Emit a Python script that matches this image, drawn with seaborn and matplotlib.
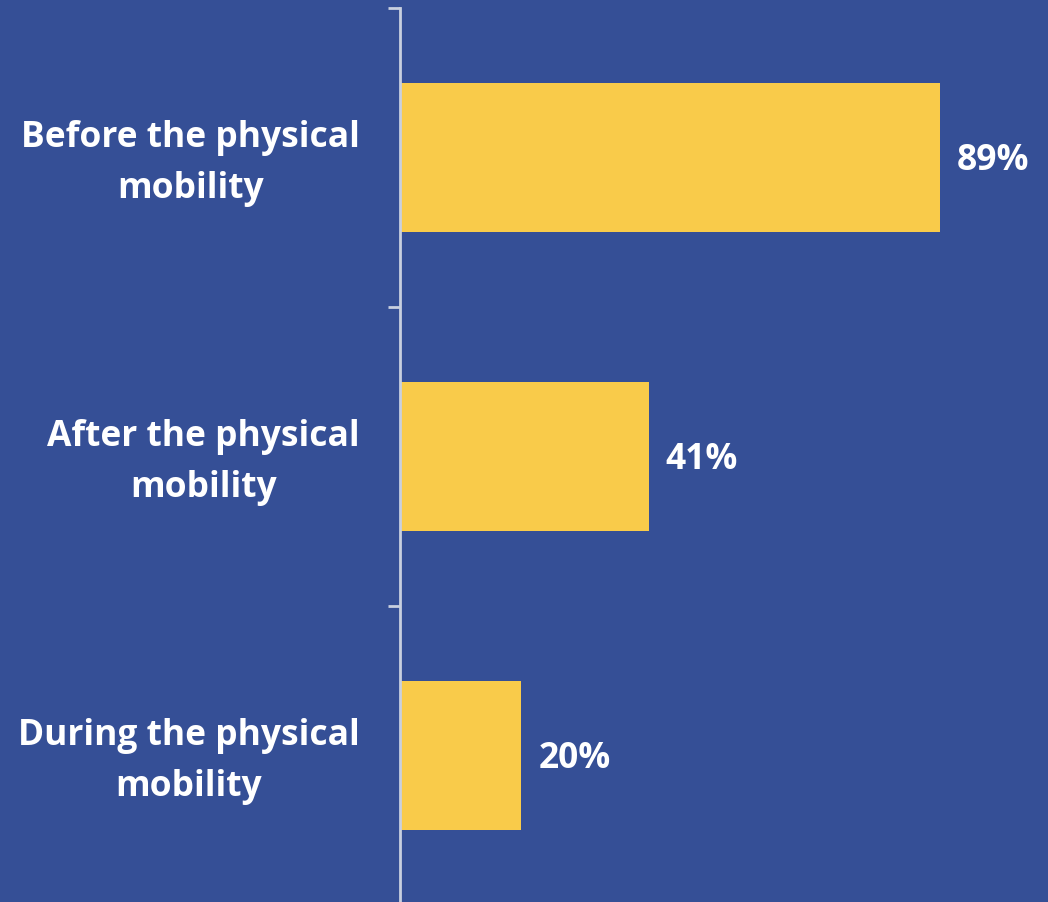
import matplotlib
matplotlib.use("Agg")
import matplotlib.pyplot as plt
import matplotlib.transforms as mtransforms
import seaborn as sns
import pandas as pd

categories = ["Before the physical\nmobility", "After the physical\nmobility", "During the physical\nmobility"]
values = [89, 41, 20]
value_labels = ["89%", "41%", "20%"]

BG = "#354F96"
BAR = "#F9CB4A"
AX = "#C9D0DF"

sns.set_theme(style="white")
plt.rcParams['font.family'] = ['Open Sans', 'DejaVu Sans']

df = pd.DataFrame({"category": categories, "value": values})

fig = plt.figure(figsize=(10.48, 9.03), dpi=100)
fig.patch.set_facecolor(BG)
H = 903.0
W = 1048.0
top = 9
bottom = 9 + 3 * 299
ax = fig.add_axes([400 / W, 1 - bottom / H, (W - 400) / W, (bottom - top) / H])
ax.set_facecolor(BG)

sns.barplot(data=df, y="category", x="value", orient="h", color=BAR, width=0.5,
            saturation=1, linewidth=0, edgecolor="none", ax=ax)
ax.set_xlim(0, (W - 400) / 6.07)
ax.set_ylim(2.5, -0.5)

for i, (v, lab) in enumerate(zip(values, value_labels)):
    ax.text(v + 17 / 6.07, i + 0.01, lab, va="center", ha="left", color="white",
            fontsize=25.5, fontweight="bold")

for s in ["top", "right", "bottom"]:
    ax.spines[s].set_visible(False)
ax.spines["left"].set_color(AX)
ax.spines["left"].set_linewidth(2)

ax.set_xticks([])
ax.set_xlabel("")
ax.set_ylabel("")
ax.set_yticks([0, 1, 2])
ax.set_yticklabels(categories, color="white", fontsize=25.5, fontweight="bold",
                   multialignment="center", linespacing=1.56)
ax.tick_params(axis="y", which="major", length=0, pad=29)
ax.set_yticks([-0.5, 0.5, 1.5, 2.5], minor=True)
ax.tick_params(axis="y", which="minor", length=9, width=2, color=AX, left=True)

shift = mtransforms.ScaledTranslation(0, 7 / 100, fig.dpi_scale_trans)
for lab in ax.get_yticklabels():
    lab.set_transform(lab.get_transform() + shift)

fig.savefig("out.png", dpi=100, facecolor=BG)
